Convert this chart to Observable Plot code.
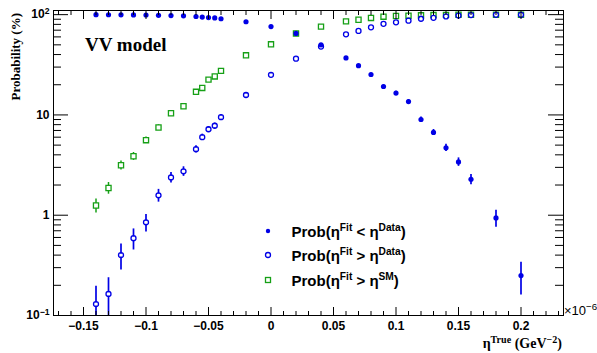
<!DOCTYPE html>
<html><head><meta charset="utf-8">
<script src="https://cdn.jsdelivr.net/npm/d3@7"></script>
<script src="https://cdn.jsdelivr.net/npm/@observablehq/plot@0.6"></script>
<style>body{margin:0;background:#fff;} #chart{width:597px;height:353px;}</style>
</head><body><div id="chart"></div>
<script>
// eta^True values (units of 1e-6 GeV^-2)
const eta = [-0.14,-0.13,-0.12,-0.11,-0.10,-0.09,-0.08,-0.07,-0.06,-0.055,-0.05,-0.045,-0.04,-0.02,0,0.02,0.04,0.06,0.07,0.08,0.09,0.10,0.11,0.12,0.13,0.14,0.15,0.16,0.18,0.20];
// Prob(eta^Fit < eta^Data) in %
const probLess = [99.9,99.8,99.6,99.4,99.2,98.5,97.8,97.3,95.8,94.6,93.6,92.8,91.0,85,76,65,50,37,31,25.3,19.2,16.5,13.6,9.0,6.7,4.7,3.4,2.28,0.94,0.25];
const errLess  = [0.06,0.07,0.11,0.14,0.16,0.22,0.27,0.3,0.37,0.41,0.45,0.47,0.52,0.65,0.78,0.87,0.91,0.88,0.84,0.79,0.72,0.68,0.63,0.52,0.46,0.39,0.33,0.27,0.18,0.09];
// Prob(eta^Fit > eta^Data) in %
const probMore = [0.13,0.164,0.40,0.59,0.85,1.58,2.38,2.74,4.56,6.0,7.2,7.8,9.5,15.8,25.1,36.4,48,63.6,68.8,74.7,81,83.8,87,91,93,96,98,99,99.5,99.7];
const errMore  = [0.066,0.074,0.115,0.14,0.168,0.23,0.28,0.3,0.38,0.43,0.47,0.49,0.54,0.67,0.79,0.88,0.91,0.88,0.85,0.79,0.72,0.67,0.61,0.52,0.47,0.36,0.26,0.18,0.13,0.1];
// Prob(eta^Fit > eta^SM) in %
const probSM = [1.25,1.87,3.15,3.87,5.6,7.5,10.4,12.2,17.0,18.6,22.5,24.2,27.5,39.3,50.6,65,76,85.7,89,92.7,95.5,97,97.7,98.5,99,99.5,99.7,99.8,99.9,99.95];
const errSM  = [0.2,0.25,0.32,0.35,0.42,0.48,0.56,0.6,0.69,0.71,0.76,0.78,0.82,0.89,0.91,0.87,0.78,0.64,0.57,0.47,0.38,0.31,0.27,0.22,0.18,0.13,0.1,0.08,0.06,0.04];

// axis ticks
const xMajor = [-0.15,-0.1,-0.05,0,0.05,0.1,0.15,0.2];
const xMajorLabels = ["\u22120.15","\u22120.1","\u22120.05","0","0.05","0.1","0.15","0.2"];
const xMinor = d3.range(-17, 24).filter(i => i % 5 !== 0).map(i => i / 100);
const yMajor = [0.1, 1, 10, 100];
const yMajorLabels = ["10^-1", "1", "10", "10^2"];
const yMinor = [0.1, 1, 10].flatMap(d => [2,3,4,5,6,7,8,9].map(k => k * d));

const legendLabels = [
  [{t:"Prob(\u03b7"},{t:"Fit",sup:1},{t:" < \u03b7"},{t:"Data",sup:1},{t:")"}],
  [{t:"Prob(\u03b7"},{t:"Fit",sup:1},{t:" > \u03b7"},{t:"Data",sup:1},{t:")"}],
  [{t:"Prob(\u03b7"},{t:"Fit",sup:1},{t:" > \u03b7"},{t:"SM",sup:1},{t:")"}]
];

const W = 597, H = 353, mL = 53, mR = 34, mT = 10, mB = 38;
const iW = W - mL - mR, iH = H - mT - mB;
const blue = "#0000e6", green = "#16a016";

const rows = eta.map((x, i) => ({x, less: probLess[i], eLess: errLess[i], more: probMore[i], eMore: errMore[i], sm: probSM[i], eSM: errSM[i]}));

const plot = Plot.plot({
  width: W, height: H, marginLeft: mL, marginRight: mR, marginTop: mT, marginBottom: mB,
  style: {background: "white", fontFamily: "'Liberation Sans', Arial, sans-serif", fontSize: "12px", fontWeight: "bold", color: "black"},
  x: {domain: [-0.174, 0.234]},
  y: {type: "log", domain: [0.1, 110]},
  marks: [
    Plot.ruleX(rows, {x: "x", y1: d => d.sm - d.eSM, y2: d => d.sm + d.eSM, stroke: green, strokeWidth: 1.5, clip: true}),
    Plot.dot(rows, {x: "x", y: "sm", symbol: "square", r: 2.9, fill: "white", stroke: green, strokeWidth: 1.3}),
    Plot.ruleX(rows, {x: "x", y1: d => d.more - d.eMore, y2: d => d.more + d.eMore, stroke: blue, strokeWidth: 1.7, clip: true}),
    Plot.dot(rows, {x: "x", y: "more", r: 1.7, fill: "white"}),
    Plot.dot(rows, {x: "x", y: "more", r: 2.5, fill: "none", stroke: blue, strokeWidth: 1.3}),
    Plot.ruleX(rows, {x: "x", y1: d => d.less - d.eLess, y2: d => d.less + d.eLess, stroke: blue, strokeWidth: 1.7, clip: true}),
    Plot.dot(rows, {x: "x", y: "less", r: 2.6, fill: blue}),
    // inward ticks
    Plot.tickX(xMajor, {x: d => d, insetTop: iH - 8, stroke: "black"}),
    Plot.tickX(xMinor, {x: d => d, insetTop: iH - 4, stroke: "black"}),
    Plot.tickX(xMajor, {x: d => d, insetBottom: iH - 9, stroke: "black"}),
    Plot.tickX(xMinor, {x: d => d, insetBottom: iH - 5, stroke: "black"}),
    Plot.tickY(yMajor, {y: d => d, insetRight: iW - 15, stroke: "black"}),
    Plot.tickY(yMinor, {y: d => d, insetRight: iW - 8, stroke: "black"}),
    Plot.tickY(yMajor, {y: d => d, insetLeft: iW - 15, stroke: "black"}),
    Plot.tickY(yMinor, {y: d => d, insetLeft: iW - 8, stroke: "black"}),
    Plot.axisX({ticks: xMajor, tickSize: 0, tickPadding: 6, label: null, tickFormat: d => xMajorLabels[xMajor.indexOf(d)]}),
    Plot.axisY({ticks: yMajor, tickSize: 0, tickPadding: 4, label: null, tickFormat: d => yMajorLabels[yMajor.indexOf(d)]}),
    Plot.frame({stroke: "black"})
  ]
});
document.getElementById("chart").appendChild(plot);

const svg = d3.select(plot);

function rich(textSel, parts, supScale = 0.65, supShift = 0.5) {
  parts.forEach((p, i) => {
    const ts = textSel.append("tspan").text(p.t);
    if (p.sup) {
      ts.attr("font-size", (supScale * 100) + "%").attr("dy", (-supShift) + "em");
    } else if (i > 0 && parts[i - 1].sup) {
      ts.attr("dy", (supShift * supScale) + "em");
    }
  });
}

// superscripts in y tick labels
svg.selectAll("text").each(function () {
  const t = this.textContent;
  if (t.includes("^")) {
    const [base, exp] = t.split("^");
    const sel = d3.select(this);
    sel.text(null);
    rich(sel, [{t: base}, {t: exp.replace("-", "\u2212"), sup: 1}], 0.72, 0.55);
  }
});

const serif = "'Liberation Serif', 'Times New Roman', serif";
const sans = "'Liberation Sans', Arial, sans-serif";

svg.append("text")
  .attr("transform", "translate(19.5,13) rotate(-90)")
  .attr("text-anchor", "end")
  .attr("font-family", serif).attr("font-size", 13).attr("font-weight", "bold")
  .text("Probability (%)");

svg.append("text")
  .attr("x", 85).attr("y", 51).attr("text-anchor", "start")
  .attr("font-family", serif).attr("font-size", 19).attr("font-weight", "bold")
  .text("VV model");

rich(svg.append("text")
  .attr("x", 562).attr("y", 348).attr("text-anchor", "end")
  .attr("font-family", serif).attr("font-size", 14).attr("font-weight", "bold"),
  [{t: "\u03b7"}, {t: "True", sup: 1}, {t: " (GeV"}, {t: "\u22122", sup: 1}, {t: ")"}], 0.72, 0.5);

rich(svg.append("text")
  .attr("x", 564).attr("y", 315).attr("text-anchor", "start")
  .attr("font-family", sans).attr("font-size", 13).attr("font-weight", "normal"),
  [{t: "\u00d710"}, {t: "\u22126", sup: 1}], 0.75, 0.55);

// legend
const lgY = [231, 255, 280];
const lg = svg.append("g").attr("text-anchor", "start");
lg.append("circle").attr("cx", 268).attr("cy", lgY[0]).attr("r", 2.2).attr("fill", blue);
lg.append("circle").attr("cx", 268).attr("cy", lgY[1]).attr("r", 2.5).attr("fill", "none").attr("stroke", blue).attr("stroke-width", 1.3);
lg.append("rect").attr("x", 265.5).attr("y", lgY[2] - 2.5).attr("width", 5).attr("height", 5).attr("fill", "none").attr("stroke", green).attr("stroke-width", 1.3);
legendLabels.forEach((parts, i) => {
  rich(lg.append("text")
    .attr("x", 291.5).attr("y", lgY[i] + 5.5).attr("text-anchor", "start")
    .attr("font-family", sans).attr("font-size", 15).attr("font-weight", "bold"),
    parts, 0.68, 0.55);
});
</script>
</body></html>
